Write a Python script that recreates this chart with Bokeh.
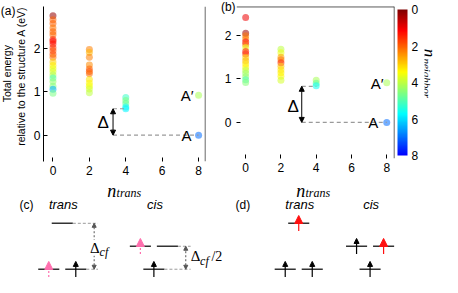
import numpy as np
from bokeh.plotting import figure
from bokeh.models import (FixedTicker, Label, Arrow, NormalHead, ColumnDataSource,
                          LinearColorMapper, ColorBar, Span, CustomJSTickFormatter, AllLabels)
from bokeh.transform import linear_cmap
from bokeh.layouts import column, row
from bokeh.embed import file_html
from bokeh.resources import INLINE

# ---------------- data: panel (a) ----------------
a_n0_energy = [2.76, 2.67, 2.58, 2.48, 2.39, 2.32, 2.21, 2.17, 2.11, 2.02, 1.95, 1.87, 1.80,
               1.69, 1.61, 1.54, 1.47, 1.39, 1.32, 1.24, 1.13, 1.06, 0.97]
a_n0_nb = [0.2, 2.0, 2.0, 2.2, 2.0, 2.1, 1.5, 1.2, 1.3, 1.6, 1.9, 1.8, 2.2,
           3.0, 3.3, 3.6, 3.8, 4.1, 5.0, 4.4, 4.5, 6.4, 4.6]
a_n2_energy = [1.98, 1.91, 1.80, 1.62, 1.53, 1.47, 1.42, 1.29, 1.20, 1.13, 1.07, 0.98]
a_n2_nb = [2.3, 2.8, 2.3, 2.4, 2.0, 1.9, 2.1, 3.2, 3.4, 3.5, 3.8, 4.0]
a_n4_energy = [0.87, 0.80, 0.73, 0.65, 0.61]
a_n4_nb = [5.2, 4.6, 4.8, 5.6, 5.8]
a_n8_energy = [0.92, 0.0]          # A', A
a_n8_nb = [4.2, 7.0]
a_delta = 0.61
a_delta_x = 3.3

# ---------------- data: panel (b) ----------------
b_n0_energy = [2.41, 2.05, 1.99, 1.92, 1.85, 1.79, 1.72, 1.63, 1.57, 1.49, 1.42, 1.35, 1.27,
               1.20, 1.13, 1.05, 0.98, 0.92]
b_n0_nb = [1.0, 0.3, 2.2, 2.3, 1.2, 2.0, 3.6, 1.3, 1.6, 3.0, 2.8, 3.2, 3.4,
           4.0, 4.3, 4.4, 5.0, 4.5]
b_n2_energy = [1.68, 1.60, 1.50, 1.44, 1.37, 1.29, 1.21, 1.14, 1.06, 0.97]
b_n2_nb = [4.0, 3.6, 2.6, 2.2, 1.5, 2.9, 3.2, 3.3, 3.4, 3.8]
b_n4_energy = [0.97, 0.90, 0.84]
b_n4_nb = [4.2, 4.8, 5.6]
b_n8_energy = [0.91, 0.0]
b_n8_nb = [4.2, 7.0]
b_delta = 0.83
b_delta_x = 3.18

x_ticks = [0, 2, 4, 6, 8]
y_ticks = [0, 1, 2]
cbar_ticks = [0, 2, 4, 6, 8]

# ---------------- data: schematics (c), (d) ----------------
group_center = [0.0, 3.39, 8.75, 11.39]
group_kind = ["trans", "cis", "trans", "cis"]
level_slot = [-0.5, 0.5, 0.0]
level_E = {"trans": [0.0, 0.0, 1.0], "cis": [0.5, 0.5, 0.0]}
level_halfwidth = 0.39
spin_group = [0, 0, 1, 1, 2, 2, 2, 3, 3, 3]
spin_slot = [-0.5, 0.5, -0.5, 0.0, 0.0, -0.5, 0.5, -0.5, 0.5, 0.0]
spin_E = [0.0, 0.0, 0.5, 0.0, 1.0, 0.0, 0.0, 0.5, 0.5, 0.0]
spin_kind = ["pink", "black", "pink", "black", "red", "black", "black", "black", "red", "black"]

SANS = "Liberation Sans"
SERIF = "Liberation Serif"
PINK = "#ff6fae"
RED = "#ff1010"
H1 = 181      # height of the two scatter panels
H2 = 96       # height of the schematic row


def jet_hex(t):
    r = np.clip(1.5 - abs(4 * t - 3), 0, 1)
    g = np.clip(1.5 - abs(4 * t - 2), 0, 1)
    b = np.clip(1.5 - abs(4 * t - 1), 0, 1)
    return "#%02x%02x%02x" % (int(r * 255), int(g * 255), int(b * 255))


cb_palette = [jet_hex(t) for t in np.linspace(0.125, 1.0, 256)]   # blue -> dark red
pt_palette = cb_palette[::-1]                                    # nb 0 dark red -> nb 8 blue


def style_axis(ax):
    ax.major_label_text_font = SANS
    ax.major_label_text_font_size = "12px"
    ax.major_label_text_color = "black"
    ax.major_tick_in = 4
    ax.major_tick_out = 0
    ax.minor_tick_line_color = None
    ax.axis_line_color = "black"
    ax.major_tick_line_color = "black"


def lab(p, x, y, t, size, font=SANS, style="normal", align="center", baseline="middle",
        angle=0.0, bg=None, place=None):
    lb = Label(x=x, y=y, text=t, text_align=align, text_baseline=baseline,
               text_font=font, text_font_style=style, text_font_size=size,
               text_color="black", angle=angle, background_fill_color=bg)
    if place is None:
        p.add_layout(lb)
    else:
        p.add_layout(lb, place)


def strip(w, h):
    s = figure(width=w, height=h, x_range=(0, w), y_range=(0, h), output_backend="svg",
               toolbar_location=None, x_axis_type=None, y_axis_type=None,
               min_border_left=0, min_border_right=0, min_border_top=0, min_border_bottom=0)
    s.outline_line_color = None
    s.grid.visible = False
    return s


def make_panel(width, frame_h, xr, yr, borders, n0, nb0, n2, nb2, n4, nb4, n8, nb8):
    p = figure(width=width, frame_height=frame_h, x_range=xr, y_range=yr,
               output_backend="svg", toolbar_location=None,
               min_border_left=borders[0], min_border_right=borders[1],
               min_border_top=borders[2], min_border_bottom=borders[3])
    p.outline_line_color = None
    p.grid.visible = False
    xs = [0] * len(n0) + [2] * len(n2) + [4] * len(n4) + [8] * len(n8)
    ys = list(n0) + list(n2) + list(n4) + list(n8)
    nbs = list(nb0) + list(nb2) + list(nb4) + list(nb8)
    src = ColumnDataSource(dict(x=xs, y=ys, nb=nbs))
    p.scatter("x", "y", source=src, size=7,
              fill_color=linear_cmap("nb", pt_palette, 0, 8),
              line_color=None, fill_alpha=0.55)
    p.xaxis.ticker = FixedTicker(ticks=x_ticks)
    p.yaxis.ticker = FixedTicker(ticks=y_ticks)
    for ax in p.axis:
        style_axis(ax)
    p.xaxis.axis_line_color = None
    p.xaxis.major_label_standoff = 4
    return p


def add_delta(p, dx, d, A_E):
    p.segment(x0=[dx, dx], y0=[d, A_E], x1=[4, 8], y1=[d, A_E], line_color="#9a9a9a",
              line_dash="4 3", line_width=1.2)
    p.add_layout(Arrow(x_start=dx, y_start=A_E, x_end=dx, y_end=d, line_width=1,
                       line_color="black",
                       start=NormalHead(size=5, fill_color="black", line_color="black"),
                       end=NormalHead(size=5, fill_color="black", line_color="black")))


# ---------------- left strip: panel label and y title of (a) ----------------
sl = strip(30, H1)
lab(sl, 7.7, H1 - 5.8, "(a)", "12px")
lab(sl, 6.8, H1 - 80.5, "Total energy", "10.5px", angle=np.pi / 2)
lab(sl, 20.3, H1 - 83.4, "relative to the structure A (eV)", "10.5px", angle=np.pi / 2)

# ---------------- panel (a) ----------------
pa = make_panel(176, 155, (-0.52, 8.38), (-0.61, 2.976), (13, 1, 2, 24),
                a_n0_energy, a_n0_nb, a_n2_energy, a_n2_nb, a_n4_energy, a_n4_nb,
                a_n8_energy, a_n8_nb)
pa.yaxis.major_label_standoff = 3
pa.add_layout(Span(location=8.37, dimension="height", line_color="black", line_width=1))
add_delta(pa, a_delta_x, a_delta, a_n8_energy[1])
lab(pa, 2.76, 0.29, "Δ", "17px")
lab(pa, 7.37, 0.92, "A′", "15px")
lab(pa, 7.33, 0.0, "A", "15px")

# ---------------- panel (b) ----------------
pb = make_panel(218, 152, (-0.52, 8.44), (-0.83, 2.665), (28, 28, 6, 23),
                b_n0_energy, b_n0_nb, b_n2_energy, b_n2_nb, b_n4_energy, b_n4_nb,
                b_n8_energy, b_n8_nb)
pb.yaxis.axis_line_color = None
pb.yaxis.major_label_standoff = 5
pb.add_layout(Span(location=2.658, dimension="width", line_color="black", line_width=1))
pb.add_layout(Span(location=8.43, dimension="height", line_color="black", line_width=1))
add_delta(pb, b_delta_x, b_delta, b_n8_energy[1])

cb_mapper = LinearColorMapper(palette=cb_palette, low=-8, high=0)
cbar = ColorBar(color_mapper=cb_mapper, width=10, padding=3, margin=0, label_standoff=4,
                ticker=FixedTicker(ticks=[-t for t in cbar_ticks]),
                formatter=CustomJSTickFormatter(code="return String(Math.abs(tick))"),
                major_label_policy=AllLabels(),
                major_label_text_font=SANS, major_label_text_font_size="12px",
                major_label_text_color="black",
                major_tick_line_color=None, bar_line_color=None,
                background_fill_color=None)
pb.add_layout(cbar, "right")

lab(pb, -0.99, 2.665, "(b)", "12px", place="left")
lab(pb, 2.7, 0.375, "Δ", "17px")
lab(pb, 7.45, 0.90, "A′", "15px")
lab(pb, 7.24, 0.0, "A", "15px")

# ---------------- right strip: colour-bar title ----------------
sr = strip(18, H1)
lab(sr, 4.5, H1 - 55.6, "n", "17px", font=SERIF, style="italic", baseline="alphabetic",
    angle=-np.pi / 2)
lab(sr, 2.6, H1 - 86.0, "neighbor", "11px", font=SERIF, style="italic", baseline="alphabetic",
    angle=-np.pi / 2)

# ---------------- schematics (c), (d) + x titles of (a), (b) ----------------
pc = figure(width=442, height=H2, x_range=(-2.286, 14.07), y_range=(-0.18, 1.91),
            output_backend="svg", toolbar_location=None, x_axis_type=None, y_axis_type=None,
            min_border_left=0, min_border_right=0, min_border_top=0, min_border_bottom=0)
pc.outline_line_color = None
pc.grid.visible = False

for nx, tx in [(1.83, 2.01), (8.82, 9.0)]:
    lab(pc, nx, 1.70, "n", "18px", font=SERIF, style="italic", baseline="alphabetic")
    lab(pc, tx, 1.67, "trans", "12px", font=SERIF, style="italic", align="left",
        baseline="alphabetic")

lx0, lx1, ly = [], [], []
for gc, kind in zip(group_center, group_kind):
    for s, e in zip(level_slot, level_E[kind]):
        lx0.append(gc + s - level_halfwidth)
        lx1.append(gc + s + level_halfwidth)
        ly.append(e)
pc.segment(x0=lx0, y0=ly, x1=lx1, y1=ly, line_color="#333333", line_width=1.6)

# Delta_cf markers for panel (c)
gap_x = [group_center[0] + 1.18, group_center[1] + 1.18]
gap_top = [max(level_E["trans"]), max(level_E["cis"])]
ext_end = [group_center[0] + 1.32, group_center[1] + 1.36]
pc.segment(x0=[group_center[0] + level_halfwidth, group_center[0] + 0.5 + level_halfwidth,
               group_center[1] + 0.5 + level_halfwidth, group_center[1] + level_halfwidth],
           y0=[gap_top[0], 0, gap_top[1], 0],
           x1=[ext_end[0], ext_end[0], ext_end[1], ext_end[1]],
           y1=[gap_top[0], 0, gap_top[1], 0],
           line_color="#9a9a9a", line_dash="3 2", line_width=1)
for gx, gt in zip(gap_x, gap_top):
    pc.add_layout(Arrow(x_start=gx, y_start=0, x_end=gx, y_end=gt, line_width=1,
                        line_color="#555555", line_dash="2 2",
                        start=NormalHead(size=4, fill_color="#555555", line_color="#555555"),
                        end=NormalHead(size=4, fill_color="#555555", line_color="#555555")))

# spins
for kind, col, hs, dash in [("black", "black", 5, "solid"), ("red", RED, 8, "solid"),
                            ("pink", PINK, 8, "2 2")]:
    xs = [group_center[g] + s for g, s, k in zip(spin_group, spin_slot, spin_kind) if k == kind]
    es = [e for e, k in zip(spin_E, spin_kind) if k == kind]
    src = ColumnDataSource(dict(x0=xs, y0=[e - 0.17 for e in es], x1=xs,
                                y1=[e + 0.17 for e in es]))
    pc.add_layout(Arrow(source=src, x_start="x0", y_start="y0", x_end="x1", y_end="y1",
                        line_color=col, line_width=1.2, line_dash=dash,
                        end=NormalHead(size=hs, fill_color=col, line_color=col)))

lab(pc, -1.32, 1.4, "(c)", "12px")
lab(pc, 6.68, 1.4, "(d)", "12px")
for gc, kind in zip(group_center, group_kind):
    lab(pc, gc + 0.04, 1.4, kind, "13px", style="italic")
lab(pc, 1.2, 0.47, "Δ", "15px", font=SERIF, bg="white")
lab(pc, 1.38, 0.37, "cf", "12px", font=SERIF, style="italic", align="left")
lab(pc, 4.93, 0.28, "Δ", "15px", font=SERIF)
lab(pc, 5.10, 0.19, "cf", "12px", font=SERIF, style="italic", align="left")
lab(pc, 5.52, 0.28, "/2", "14px", font=SERIF, align="left")

layout = column(row(sl, pa, pb, sr), pc)
open("out.html", "w").write(file_html(layout, INLINE))
